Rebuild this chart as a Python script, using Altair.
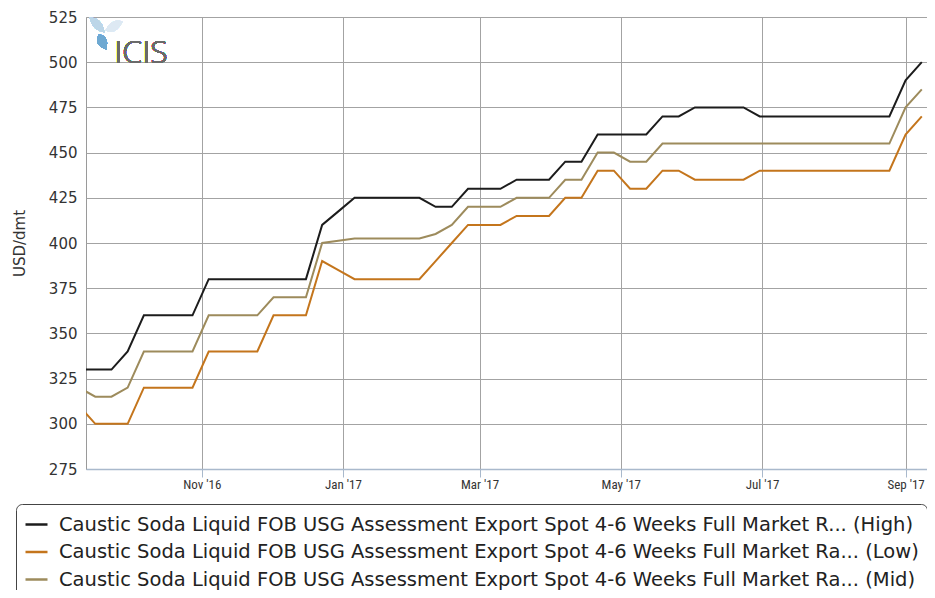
import altair as alt
import pandas as pd

# ---- data (weekly assessments) ----
week_start = "2016-09-09"
n_weeks = 53
dates = pd.date_range(week_start, periods=n_weeks, freq="7D")

high = [330, 330, 330, 340, 360, 360, 360, 360, 380, 380, 380, 380, 380, 380, 380,
        410, 417.5, 425, 425, 425, 425, 425, 420, 420, 430, 430, 430, 435, 435, 435,
        445, 445, 460, 460, 460, 460, 470, 470, 475, 475, 475, 475,
        470, 470, 470, 470, 470, 470, 470, 470, 470, 490, 500]
low = [310, 300, 300, 300, 320, 320, 320, 320, 340, 340, 340, 340, 360, 360, 360,
       390, 385, 380, 380, 380, 380, 380, 390, 400, 410, 410, 410, 415, 415, 415,
       425, 425, 440, 440, 430, 430, 440, 440, 435, 435, 435, 435,
       440, 440, 440, 440, 440, 440, 440, 440, 440, 460, 470]
mid = [320, 315, 315, 320, 340, 340, 340, 340, 360, 360, 360, 360, 370, 370, 370,
       400, 401.25, 402.5, 402.5, 402.5, 402.5, 402.5, 405, 410, 420, 420, 420, 425, 425, 425,
       435, 435, 450, 450, 445, 445, 455, 455, 455, 455, 455, 455,
       455, 455, 455, 455, 455, 455, 455, 455, 455, 475, 485]

series_names = [
    "Caustic Soda Liquid FOB USG Assessment Export Spot 4-6 Weeks Full Market R... (High)",
    "Caustic Soda Liquid FOB USG Assessment Export Spot 4-6 Weeks Full Market Ra... (Low)",
    "Caustic Soda Liquid FOB USG Assessment Export Spot 4-6 Weeks Full Market Ra... (Mid)",
]
series_colors = ["#1c1c1c", "#c4751c", "#9d8b5c"]
y_ticks = [275, 300, 325, 350, 375, 400, 425, 450, 475, 500, 525]

rows = []
for name, vals in zip(series_names, [high, low, mid]):
    for d, v in zip(dates, vals):
        rows.append({"date": d, "value": v, "series": name})
df = pd.DataFrame(rows)

x_ticks = [
    alt.DateTime(year=2016, month=11, date=1),
    alt.DateTime(year=2017, month=1, date=1),
    alt.DateTime(year=2017, month=3, date=1),
    alt.DateTime(year=2017, month=5, date=1),
    alt.DateTime(year=2017, month=7, date=1),
    alt.DateTime(year=2017, month=9, date=1),
]

lines = alt.Chart(df).mark_line(strokeWidth=2, clip=True, interpolate="linear").encode(
    x=alt.X(
        "date:T",
        scale=alt.Scale(domain=[alt.DateTime(year=2016, month=9, date=12),
                                alt.DateTime(year=2017, month=9, date=10, hours=6)]),
        axis=alt.Axis(values=x_ticks, format="%b '%y", grid=True, tickSize=8,
                      tickColor="#a9b9cc", domainColor="#a9b9cc", domainWidth=1.5,
                      labelFont="'Roboto Condensed', Roboto, sans-serif", labelFontSize=13,
                      labelColor="#333333", labelPadding=1, title=None),
    ),
    y=alt.Y(
        "value:Q",
        scale=alt.Scale(domain=[275, 525], nice=False, zero=False),
        axis=alt.Axis(values=y_ticks, grid=True, ticks=False, domain=False,
                      labelPadding=9, labelFont="DejaVu Sans", labelFontSize=15,
                      labelColor="#333333", title="USD/dmt", titleFont="DejaVu Sans",
                      titleFontSize=15, titleFontWeight="normal", titleColor="#333333",
                      titlePadding=21),
    ),
    color=alt.Color(
        "series:N",
        scale=alt.Scale(domain=series_names, range=series_colors),
        legend=alt.Legend(orient="none", legendX=-70, legendY=487, title=None,
                          symbolType="stroke", symbolSize=484, symbolStrokeWidth=2.5,
                          labelFont="DejaVu Sans", labelFontSize=19.5, labelColor="#222222",
                          labelLimit=2000, labelOffset=10, rowPadding=5.5, padding=8,
                          strokeColor="#444444", cornerRadius=6, fillColor="white"),
    ),
)

# ---- ICIS watermark logo ----
petal_a = "M -1 -1 Q 0.7 -1 1 1 Q -0.7 0.7 -1 -1 Z"
petal_b = "M 1 -0.6 Q -0.2 -1.2 -1 0.4 Q 0.2 1 1 -0.6 Z"
petal_c = "M -0.4 -1 Q 1 -0.8 0.6 1 Q -1.2 0.4 -0.4 -1 Z"
logo_a = alt.Chart(df).mark_point(filled=True, shape=petal_a, size=220, opacity=1,
                                  color="#bcd6e8", strokeWidth=0).encode(
    x=alt.value(11), y=alt.value(8))
logo_b = alt.Chart(df).mark_point(filled=True, shape=petal_b, size=300, opacity=1,
                                  color="#dde9f3", strokeWidth=0).encode(
    x=alt.value(28), y=alt.value(10))
logo_c = alt.Chart(df).mark_point(filled=True, shape=petal_c, size=220, opacity=1,
                                  color="#6fa9d2", strokeWidth=0).encode(
    x=alt.value(16), y=alt.value(25))
logo_t = alt.Chart(df).mark_text(text="ICIS", font="Open Sans", fontSize=32,
                                 fontWeight=300, color="#6a6a6a", align="center",
                                 baseline="alphabetic").encode(
    x=alt.value(55), y=alt.value(46))

chart = alt.layer(lines, logo_a, logo_b, logo_c, logo_t).properties(
    width=841, height=452,
    autosize=alt.AutoSizeParams(type="none"),
    padding={"left": 78, "top": 9, "right": 0, "bottom": 121},
    background="white",
).configure_view(stroke="#9a9a9a", strokeWidth=1).configure_axis(
    gridColor="#a3a3a3", gridWidth=1, gridOpacity=1
)

chart.save("out.html", embed_options={"renderer": "svg", "actions": False})
